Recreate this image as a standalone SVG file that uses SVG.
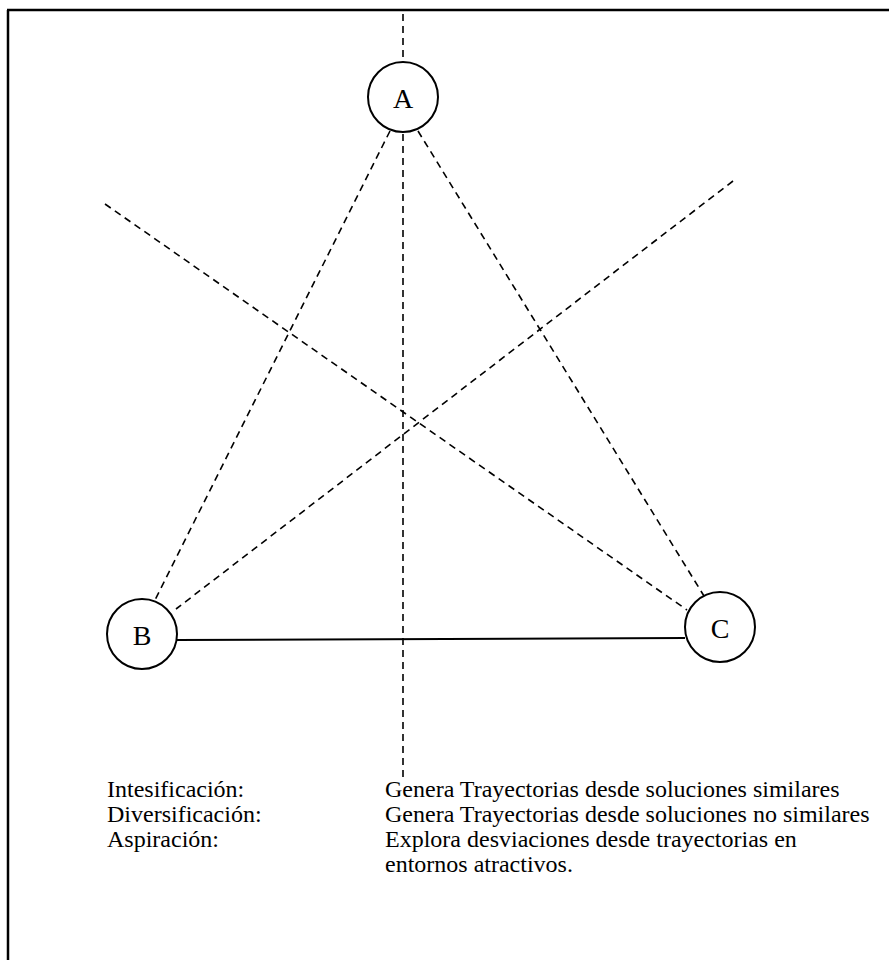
<svg xmlns="http://www.w3.org/2000/svg" width="889" height="960" viewBox="0 0 889 960">
  <style>
    .frame { stroke: #000; stroke-width: 2.5; fill: none; }
    .dash { stroke: #000; stroke-width: 1.6; stroke-dasharray: 7 5; fill: none; }
    .solid { stroke: #000; stroke-width: 2; fill: none; }
    .node circle { fill: #fff; stroke: #000; stroke-width: 2; }
    .node text { font-family: "Liberation Serif", "Times New Roman", serif; font-size: 28px; text-anchor: middle; dominant-baseline: central; fill: #000; }
    .legend text { font-family: "Liberation Serif", "Times New Roman", serif; font-size: 24px; fill: #000; }
  </style>
  <rect width="889" height="960" fill="#fff"/>
  <!-- page frame: top and left edges -->
  <path class="frame" d="M7 10 H889 M8 10 V960"/>

  <g id="connectors">
    <!-- vertical axis through A -->
    <line class="dash" x1="403" y1="14" x2="403" y2="782"/>
    <!-- triangle sides -->
    <line class="dash" x1="390" y1="131" x2="155" y2="600"/>
    <line class="dash" x1="418" y1="131" x2="704" y2="596"/>
    <line class="solid" x1="177" y1="640" x2="685" y2="638"/>
    <!-- diagonals -->
    <line class="dash" x1="105" y1="204" x2="687" y2="610"/>
    <line class="dash" x1="733" y1="181" x2="176" y2="609"/>
  </g>

  <g id="node-A" class="node">
    <circle cx="403" cy="97" r="35"/>
    <text x="403" y="98">A</text>
  </g>
  <g id="node-B" class="node">
    <circle cx="142" cy="634" r="35"/>
    <text x="142" y="635">B</text>
  </g>
  <g id="node-C" class="node">
    <circle cx="720" cy="627" r="35"/>
    <text x="720" y="628">C</text>
  </g>

  <g id="legend" class="legend">
    <text x="107" y="797">Intesificación:</text>
    <text x="107" y="822">Diversificación:</text>
    <text x="107" y="847">Aspiración:</text>
    <text x="385" y="797">Genera Trayectorias desde soluciones similares</text>
    <text x="385" y="822">Genera Trayectorias desde soluciones no similares</text>
    <text x="385" y="847">Explora desviaciones desde trayectorias en</text>
    <text x="385" y="872">entornos atractivos.</text>
  </g>
</svg>
